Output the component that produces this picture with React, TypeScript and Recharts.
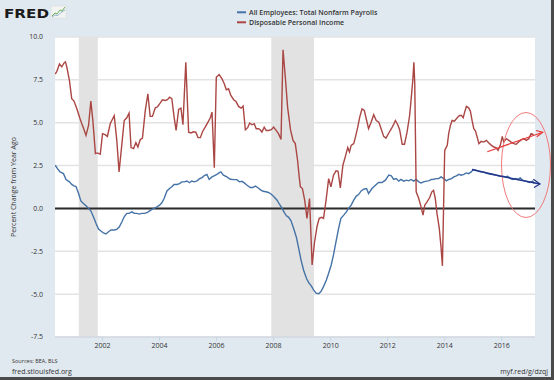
import React from 'react';
import { LineChart, Line, XAxis, YAxis, CartesianGrid, ReferenceArea, ReferenceLine } from 'recharts';

const seriesNames = ['All Employees: Total Nonfarm Payrolls', 'Disposable Personal Income'];
const seriesColors = ['#4572A7', '#AA4643'];

const payYears = [
  2000.34, 2000.42, 2000.51, 2000.63, 2000.72, 2000.84, 2000.92, 2001.0, 2001.07, 2001.16, 2001.24, 2001.33,
  2001.42, 2001.51, 2001.59, 2001.68, 2001.78, 2001.86, 2001.94, 2002.03, 2002.12, 2002.21, 2002.3, 2002.41,
  2002.5, 2002.59, 2002.68, 2002.76, 2002.85, 2002.93, 2003.03, 2003.11, 2003.2, 2003.3, 2003.37, 2003.47,
  2003.56, 2003.64, 2003.73, 2003.81, 2003.91, 2004.0, 2004.08, 2004.16, 2004.26, 2004.35, 2004.43, 2004.51,
  2004.61, 2004.7, 2004.78, 2004.87, 2004.96, 2005.05, 2005.13, 2005.22, 2005.31, 2005.39, 2005.49, 2005.57,
  2005.66, 2005.74, 2005.84, 2005.93, 2006.01, 2006.1, 2006.15, 2006.24, 2006.36, 2006.48, 2006.6, 2006.71,
  2006.8, 2006.89, 2006.97, 2007.07, 2007.18, 2007.27, 2007.36, 2007.44, 2007.53, 2007.63, 2007.73, 2007.82,
  2007.92, 2008.02, 2008.12, 2008.21, 2008.3, 2008.37, 2008.45, 2008.53, 2008.61, 2008.7, 2008.8, 2008.88,
  2008.96, 2009.05, 2009.15, 2009.23, 2009.32, 2009.4, 2009.49, 2009.58, 2009.66, 2009.75, 2009.85, 2009.93,
  2010.02, 2010.1, 2010.2, 2010.28, 2010.36, 2010.46, 2010.55, 2010.63, 2010.72, 2010.81, 2010.9, 2010.98,
  2011.07, 2011.16, 2011.26, 2011.33, 2011.45, 2011.57, 2011.68, 2011.8, 2011.92, 2012.04, 2012.13, 2012.21,
  2012.3, 2012.39, 2012.47, 2012.56, 2012.66, 2012.74, 2012.82, 2012.91, 2013.0, 2013.09, 2013.17, 2013.26,
  2013.35, 2013.44, 2013.53, 2013.61, 2013.71, 2013.79, 2013.87, 2013.97, 2014.06, 2014.14, 2014.24, 2014.32,
  2014.41, 2014.5, 2014.58, 2014.67, 2014.76, 2014.84, 2014.93, 2015.0, 2015.08, 2015.16, 2015.25, 2015.34,
  2015.43, 2015.51, 2015.6, 2015.69, 2015.78, 2015.86, 2015.95, 2016.04, 2016.13, 2016.21, 2016.31, 2016.39,
  2016.48, 2016.56, 2016.65, 2016.73, 2016.83, 2016.91, 2016.99, 2017.08, 2017.15,
];
const payValues = [
  2.52, 2.32, 2.13, 2.03, 1.69, 1.55, 1.4, 1.32, 1.28, 0.87, 0.44, 0.29,
  0.15, 0.0, -0.14, -0.49, -0.91, -1.2, -1.32, -1.42, -1.49, -1.36, -1.26, -1.26,
  -1.22, -1.07, -0.78, -0.49, -0.29, -0.29, -0.2, -0.29, -0.29, -0.33, -0.29, -0.29,
  -0.25, -0.16, -0.06, 0.0, 0.09, 0.19, 0.33, 0.58, 1.02, 1.16, 1.26, 1.4,
  1.4, 1.45, 1.55, 1.55, 1.6, 1.5, 1.6, 1.55, 1.6, 1.72, 1.8, 1.92,
  1.98, 1.69, 1.84, 1.92, 1.99, 2.09, 2.13, 1.94, 1.84, 1.7, 1.68, 1.68,
  1.55, 1.58, 1.49, 1.35, 1.22, 1.22, 1.3, 1.22, 1.1, 1.0, 0.97, 0.93,
  0.83, 0.67, 0.48, 0.23, 0.0, -0.23, -0.43, -0.52, -0.72, -1.16, -1.69, -2.33,
  -3.0, -3.59, -4.07, -4.33, -4.52, -4.75, -4.94, -4.98, -4.85, -4.56, -4.17, -3.78,
  -3.3, -2.71, -1.84, -1.16, -0.58, -0.39, -0.2, 0.0, 0.19, 0.48, 0.72, 0.81,
  1.02, 1.12, 1.16, 0.87, 1.16, 1.35, 1.51, 1.51, 1.65, 1.94, 1.9, 1.69,
  1.74, 1.59, 1.69, 1.59, 1.65, 1.61, 1.69, 1.59, 1.69, 1.55, 1.49, 1.55,
  1.59, 1.61, 1.69, 1.7, 1.74, 1.74, 1.84, 1.74, 1.61, 1.69, 1.74, 1.84,
  1.9, 1.99, 1.94, 1.99, 2.07, 2.03, 2.13, 2.27, 2.23, 2.19, 2.13, 2.13,
  2.07, 2.03, 1.99, 1.98, 1.94, 1.92, 1.88, 1.88, 1.84, 1.88, 1.74, 1.69,
  1.74, 1.69, 1.78, 1.65, 1.59, 1.55, 1.51, 1.59, 1.45,
];

const dpiYears = [
  2000.34, 2000.4, 2000.49, 2000.57, 2000.65, 2000.7, 2000.75, 2000.84, 2000.92, 2001.0, 2001.1, 2001.21,
  2001.33, 2001.42, 2001.51, 2001.59, 2001.66, 2001.75, 2001.82, 2001.92, 2002.0, 2002.09, 2002.17, 2002.27,
  2002.41, 2002.5, 2002.58, 2002.68, 2002.76, 2002.85, 2002.93, 2003.0, 2003.09, 2003.17, 2003.24, 2003.32,
  2003.4, 2003.5, 2003.59, 2003.67, 2003.75, 2003.85, 2003.93, 2004.02, 2004.1, 2004.2, 2004.28, 2004.35,
  2004.43, 2004.51, 2004.58, 2004.67, 2004.75, 2004.82, 2004.92, 2005.02, 2005.1, 2005.19, 2005.27, 2005.35,
  2005.43, 2005.51, 2005.6, 2005.68, 2005.78, 2005.84, 2005.92, 2005.99, 2006.09, 2006.19, 2006.27, 2006.34,
  2006.42, 2006.5, 2006.6, 2006.68, 2006.77, 2006.86, 2006.93, 2007.01, 2007.09, 2007.16, 2007.24, 2007.32,
  2007.39, 2007.47, 2007.53, 2007.59, 2007.67, 2007.74, 2007.82, 2007.92, 2008.0, 2008.09, 2008.17, 2008.26,
  2008.33, 2008.41, 2008.49, 2008.59, 2008.68, 2008.76, 2008.84, 2008.9, 2008.94, 2009.01, 2009.09, 2009.17,
  2009.26, 2009.35, 2009.43, 2009.52, 2009.6, 2009.68, 2009.75, 2009.84, 2009.93, 2010.01, 2010.1, 2010.19,
  2010.26, 2010.34, 2010.43, 2010.52, 2010.6, 2010.66, 2010.72, 2010.81, 2010.87, 2010.95, 2011.02, 2011.1,
  2011.18, 2011.24, 2011.33, 2011.42, 2011.51, 2011.6, 2011.69, 2011.77, 2011.86, 2011.94, 2012.04, 2012.13,
  2012.21, 2012.27, 2012.35, 2012.42, 2012.51, 2012.59, 2012.68, 2012.77, 2012.83, 2012.88, 2012.92, 2012.95,
  2013.0, 2013.09, 2013.17, 2013.24, 2013.3, 2013.38, 2013.47, 2013.55, 2013.61, 2013.67, 2013.73, 2013.81,
  2013.87, 2013.92, 2014.0, 2014.03, 2014.09, 2014.14, 2014.2, 2014.26, 2014.34, 2014.44, 2014.52, 2014.59,
  2014.65, 2014.7, 2014.76, 2014.84, 2014.9, 2014.96, 2015.02, 2015.08, 2015.14, 2015.2, 2015.28, 2015.37,
  2015.46, 2015.55, 2015.64, 2015.72, 2015.8, 2015.87, 2015.95, 2016.02, 2016.07, 2016.16, 2016.25, 2016.33,
  2016.42, 2016.51, 2016.59, 2016.68, 2016.77, 2016.86, 2016.95, 2017.03, 2017.12,
];
const dpiValues = [
  7.84, 8.0, 8.43, 8.26, 8.49, 8.55, 8.23, 7.46, 6.4, 6.26, 5.81, 5.23,
  4.69, 4.26, 4.84, 6.26, 5.13, 3.2, 3.24, 3.16, 4.36, 4.3, 4.2, 4.94,
  5.41, 3.97, 2.13, 3.78, 5.13, 5.29, 5.56, 3.55, 3.49, 3.84, 3.58, 4.01,
  4.1, 5.72, 6.69, 5.37, 5.37, 5.87, 5.93, 6.14, 6.34, 6.3, 6.34, 6.49,
  6.4, 5.33, 4.55, 5.77, 5.85, 4.88, 8.52, 4.45, 4.4, 4.47, 4.45, 4.13,
  4.13, 4.49, 4.74, 4.98, 5.29, 5.62, 2.38, 7.65, 7.81, 7.56, 7.27, 6.92,
  6.98, 6.59, 6.34, 6.24, 5.95, 5.85, 5.97, 4.59, 4.71, 4.98, 4.88, 4.94,
  4.65, 4.65, 4.59, 4.45, 4.74, 4.55, 4.55, 4.59, 4.74, 4.55, 4.36, 4.03,
  9.26, 7.65, 5.91, 4.61, 3.97, 3.78, 2.81, 1.8, 1.26, 1.16, 0.48, -0.58,
  0.58, -3.3, -2.03, -1.07, -0.58, -0.52, -0.58, 0.48, 1.74, 1.26, 1.94, 2.19,
  2.17, 1.2, 2.52, 3.05, 3.55, 3.29, 3.68, 3.78, 4.16, 4.74, 5.33, 5.81,
  5.72, 5.29, 4.65, 5.03, 5.47, 5.13, 5.03, 4.65, 4.2, 4.1, 4.4, 4.65,
  4.9, 5.13, 4.9, 4.59, 3.74, 3.74, 4.45, 5.42, 6.49, 7.46, 8.52, 7.27,
  0.97, 0.58, 0.09, -0.39, 0.19, 0.38, 0.62, 0.97, 1.06, 0.58, -0.29, -1.16,
  -2.23, -3.35, 3.39, 3.49, 3.68, 4.36, 4.84, 5.13, 5.09, 5.29, 5.42, 5.42,
  5.29, 5.62, 5.95, 5.87, 5.68, 5.13, 4.65, 4.51, 4.16, 3.78, 3.91, 3.87,
  3.97, 3.82, 3.68, 3.58, 3.55, 3.39, 3.68, 4.2, 3.87, 4.07, 3.97, 3.87,
  3.78, 3.74, 3.87, 4.0, 4.07, 3.97, 4.07, 4.36, 4.3,
];

const xTicks = [2002, 2004, 2006, 2008, 2010, 2012, 2014, 2016];
const yTicks = [-7.5, -5, -2.5, 0, 2.5, 5, 7.5, 10];
const xDomain = [2000.333, 2017.167];
const recessionStarts = [2001.167, 2007.917];
const recessionEnds = [2001.833, 2009.417];

const payData = payYears.map((t, i) => ({ t, v: payValues[i] }));
const dpiData = dpiYears.map((t, i) => ({ t, v: dpiValues[i] }));

const FONT = '"Open Sans", "Noto Sans", sans-serif';

export default function App() {
  return (
    <div style={{ position: 'absolute', left: 0, top: 0, width: 554, height: 380, background: '#E1E9F0', overflow: 'hidden' }}>
      <div style={{ position: 'absolute', left: 0, top: 0 }}>
        <LineChart width={554} height={380} margin={{ top: 37, right: 19, left: 0, bottom: 0 }}>
          <CartesianGrid vertical={false} stroke="#E3E3E3" strokeWidth={1.5} fill="#FFFFFF" />
          {recessionStarts.map((s, i) => (
            <ReferenceArea key={i} x1={s} x2={recessionEnds[i]} fill="#E1E2E1" fillOpacity={1} stroke="none" />
          ))}
          <XAxis
            type="number"
            dataKey="t"
            domain={xDomain}
            ticks={xTicks}
            interval={0}
            allowDataOverflow
            height={43}
            tickSize={4}
            tickMargin={2}
            axisLine={{ stroke: '#C8D4E0' }}
            tickLine={{ stroke: '#C8D4E0' }}
            tick={{ fontSize: 7, fill: '#333', fontFamily: FONT }}
          />
          <YAxis
            type="number"
            domain={[-7.5, 10]}
            ticks={yTicks}
            interval={0}
            width={55}
            axisLine={false}
            tickLine={false}
            tickSize={0}
            tickMargin={12}
            tickFormatter={(v: number) => v.toFixed(1)}
            tick={{ fontSize: 7, fill: '#333', fontFamily: FONT }}
          />
          <ReferenceLine y={0} stroke="#2B2B2B" strokeWidth={2} />
          <Line data={payData} dataKey="v" type="linear" stroke={seriesColors[0]} strokeWidth={1.4} dot={false} isAnimationActive={false} />
          <Line data={dpiData} dataKey="v" type="linear" stroke={seriesColors[1]} strokeWidth={1.4} dot={false} isAnimationActive={false} />
        </LineChart>
      </div>
      <svg width={554} height={380} style={{ position: 'absolute', left: 0, top: 0, pointerEvents: 'none' }}>
        {/* logo */}
        <text x={4} y={17.5} fontFamily='"DejaVu Sans", sans-serif' fontWeight={900} fontSize={13} fill="#1a1a1a" textLength={45} lengthAdjust="spacingAndGlyphs">FRED</text>
        <rect x={51} y={6} width={15} height={12} fill="#F2F4F2" stroke="#D8DCD8" strokeWidth={0.5} />
        <polyline points="52,16 55,13 57,14 60,10 62,11 65,7" fill="none" stroke="#6BAF5A" strokeWidth={1} />
        <polyline points="52,17 55,15 58,15.5 61,12.5 65,10" fill="none" stroke="#7A9FC7" strokeWidth={0.8} />
        {/* legend */}
        {seriesNames.map((n, i) => (
          <g key={n}>
            <line x1={237} x2={246} y1={12.3 + i * 10} y2={12.3 + i * 10} stroke={seriesColors[i]} strokeWidth={2} />
            <text x={249} y={14.8 + i * 10} fontFamily={FONT} fontWeight={600} fontSize={7} fill="#333">{n}</text>
          </g>
        ))}
        {/* y label */}
        <text transform="translate(15.5,187) rotate(-90)" textAnchor="middle" fontFamily={FONT} fontSize={7} fill="#333">Percent Change from Year Ago</text>
        {/* footer */}
        <text x={12} y={363} fontFamily={FONT} fontSize={5.5} fill="#333">Sources: BEA, BLS</text>
        <text x={12} y={374} fontFamily={FONT} fontSize={7} fill="#333">fred.stlouisfed.org</text>
        <text x={548} y={374} textAnchor="end" fontFamily={FONT} fontSize={7} fill="#333">myf.red/g/dzqj</text>
        {/* annotations */}
        <ellipse cx={526} cy={165} rx={24.5} ry={52.5} fill="none" stroke="#F07A7A" strokeWidth={1} />
        <line x1={487.3} y1={151.7} x2={542.7} y2={132.3} stroke="#E83A3A" strokeWidth={1.2} />
        <polyline points="536,130.5 542.7,132.3 536.7,136.8" fill="none" stroke="#E83A3A" strokeWidth={1.2} />
        <polyline points="472,169.5 485,172.5 500,176 512,178.5 525,181 540,184" fill="none" stroke="#22368C" strokeWidth={1.4} />
        <polyline points="533.3,179.3 540,184 534,187.5" fill="none" stroke="#22368C" strokeWidth={1.2} />
        {/* frame shadow */}
        <rect x={551} y={0} width={3} height={380} fill="#4A4A4A" />
        <rect x={0} y={377} width={554} height={3} fill="#4A4A4A" />
      </svg>
    </div>
  );
}
